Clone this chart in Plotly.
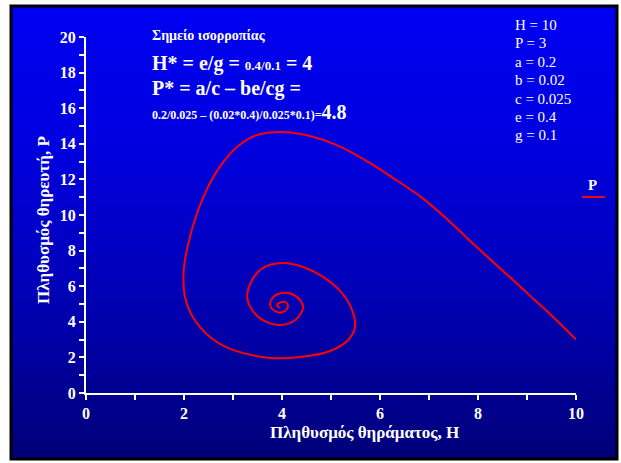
import plotly.graph_objects as go

# Prey (H) and predator (P) trajectory, starting at H=10, P=3 and spiralling into the equilibrium
prey_H = [10.0, 9.53, 9.06, 8.59, 8.04, 7.43, 6.86, 6.24, 5.80, 5.12, 4.57, 4.0, 3.49, 3.08,
          2.73, 2.46, 2.24, 2.09, 2.0, 1.99, 2.02, 2.18, 2.53, 3.0, 3.76, 4.37, 4.98, 5.35,
          5.49, 5.43, 5.22, 4.84, 4.43, 4.0, 3.61, 3.39, 3.29, 3.39, 3.61, 3.96, 4.27, 4.43,
          4.37, 4.2, 4.0, 3.82, 3.76, 3.86, 4.02, 4.12, 4.08, 3.98, 3.9, 3.96]
pred_P = [3.0, 4.28, 5.47, 6.66, 8.03, 9.61, 10.96, 12.13, 12.92, 13.93, 14.44, 14.66, 14.49, 13.82,
          12.7, 11.4, 9.89, 8.43, 7.08, 6.24, 5.39, 4.27, 3.15, 2.42, 1.97, 2.02, 2.36, 2.98,
          3.7, 4.66, 5.62, 6.52, 7.08, 7.3, 7.02, 6.35, 5.39, 4.66, 4.1, 3.82, 4.1, 4.78,
          5.22, 5.56, 5.62, 5.39, 4.94, 4.6, 4.55, 4.83, 5.1, 5.1, 4.94, 4.78]

params = ["H = 10", "P = 3", "a = 0.2", "b = 0.02", "c = 0.025", "e = 0.4", "g = 0.1"]

W, Hh = 621, 463
SERIF = "Liberation Serif"


def px(x):
    return x / W


def py(y):
    return 1 - y / Hh


fig = go.Figure()
fig.add_trace(go.Scatter(x=prey_H, y=pred_P, mode="lines", name="P",
                         line=dict(color="#ff0000", width=2, shape="spline", smoothing=1.0),
                         showlegend=False))

shapes = []
# vertical blue gradient panel (blue channel at a few heights, linear in between)
top, bot, left, right = 5, 460, 10, 618
stops_y = [5, 150, 300, 460]
stops_b = [242, 222, 180, 120]


def blue_at(y):
    for k in range(len(stops_y) - 1):
        if y <= stops_y[k + 1]:
            t = (y - stops_y[k]) / (stops_y[k + 1] - stops_y[k])
            return round(stops_b[k] + (stops_b[k + 1] - stops_b[k]) * t)
    return stops_b[-1]


n = 91
for i in range(n):
    y0 = top + (bot - top) * i / n
    y1 = top + (bot - top) * (i + 1) / n + 0.6
    b = blue_at((y0 + y1) / 2)
    shapes.append(dict(type="rect", xref="paper", yref="paper", layer="below",
                       x0=px(left), x1=px(right), y0=py(min(y1, bot)), y1=py(y0),
                       fillcolor="rgb(0,0,%d)" % b, line=dict(width=0)))
# black frame
shapes.append(dict(type="rect", xref="paper", yref="paper", layer="below",
                   x0=px(left + 1), x1=px(right - 1), y0=py(bot - 1), y1=py(top + 1),
                   fillcolor="rgba(0,0,0,0)", line=dict(color="black", width=3)))
# legend swatch
shapes.append(dict(type="line", xref="paper", yref="paper",
                   x0=px(582), x1=px(605), y0=py(197), y1=py(197),
                   line=dict(color="#ff0000", width=2)))

ann = []


def text(x, y, s, size, bold=True, xanchor="left", angle=0):
    ann.append(dict(x=px(x), y=py(y), xref="paper", yref="paper", text=s, showarrow=False,
                    xanchor=xanchor, yanchor="middle", textangle=angle,
                    font=dict(family=SERIF, size=size, color="white",
                              weight=700 if bold else 400)))


text(150, 35, "Σημείο ισορροπίας", 14)
text(150, 63, "H* = e/g = <span style='font-size:13px'>0.4/0.1</span> = 4", 20)
text(150, 88, "P* = a/c – be/cg =", 20)
text(150, 112, "0.2/0.025 – (0.02*0.4)/0.025*0.1)=<span style='font-size:20px'>4.8</span>", 12)
for i, p in enumerate(params):
    text(513, 25 + i * 18.4, p, 15, bold=False)
text(592, 185, "P", 15, xanchor="center")
text(364, 432, "Πληθυσμός θηράματος, H", 17, xanchor="center")
text(43, 220, "Πληθυσμός θηρευτή, P", 17, xanchor="center", angle=-90)

axis_common = dict(showgrid=False, zeroline=False, showline=True, linecolor="white",
                   linewidth=2, ticks="outside", ticklen=5, tickwidth=2, tickcolor="white",
                   automargin=False,
                   tickfont=dict(family=SERIF, size=16, color="white", weight=700),
                   minor=dict(ticks="outside", ticklen=5, tickwidth=2, tickcolor="white", dtick=1))

fig.update_layout(
    width=W, height=Hh, margin=dict(l=0, r=0, t=0, b=0, pad=0, autoexpand=False),
    paper_bgcolor="white", plot_bgcolor="rgba(0,0,0,0)",
    xaxis=dict(range=[0, 10], dtick=2, tick0=0, domain=[px(86), px(576)], **axis_common),
    yaxis=dict(range=[0, 20], dtick=2, tick0=0, domain=[py(393), py(37)], **axis_common),
    shapes=shapes, annotations=ann,
)

fig.write_html("out.html")
